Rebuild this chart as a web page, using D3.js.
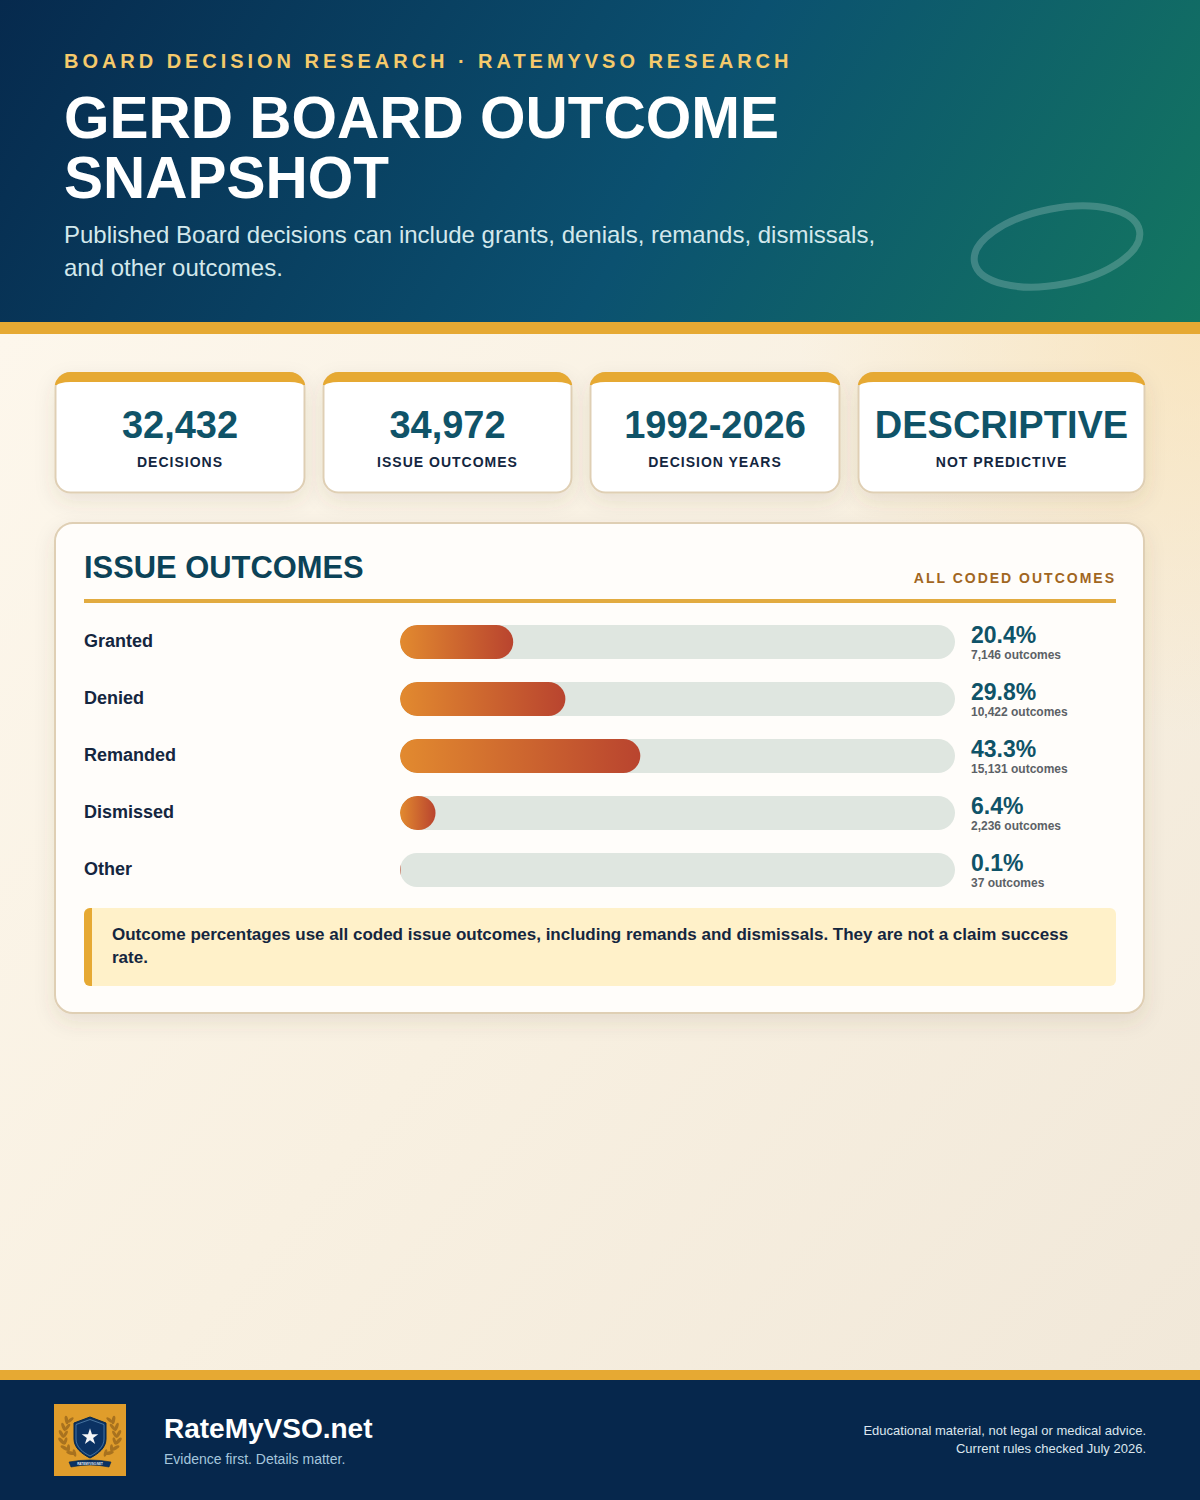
<!DOCTYPE html>
<html>
<head>
<meta charset="utf-8">
<title>GERD Board Outcome Snapshot</title>
<script src="https://cdnjs.cloudflare.com/ajax/libs/d3/7.8.5/d3.min.js"></script>
<style>
html, body { margin: 0; padding: 0; background: #f6eee0; }
svg { display: block; font-family: "Liberation Sans", Arial, sans-serif; }
</style>
</head>
<body>
<div id="chart"></div>
<script>
var categories = ["Granted", "Denied", "Remanded", "Dismissed", "Other"];
var percents = [20.4, 29.8, 43.3, 6.4, 0.1];
var counts = ["7,146 outcomes", "10,422 outcomes", "15,131 outcomes", "2,236 outcomes", "37 outcomes"];

var statValues = ["32,432", "34,972", "1992-2026", "DESCRIPTIVE"];
var statLabels = ["DECISIONS", "ISSUE OUTCOMES", "DECISION YEARS", "NOT PREDICTIVE"];
var statLefts = [55, 323, 590, 858];
var statRights = [305, 572, 840, 1145];

var width = 1200, height = 1500;
var gold = "#e6a933";

var svg = d3.select("#chart").append("svg")
    .attr("width", width)
    .attr("height", height)
    .attr("viewBox", "0 0 1200 1500");

var defs = svg.append("defs");

function gradient(id, x1, y1, x2, y2, stops) {
    var g = defs.append("linearGradient")
        .attr("id", id)
        .attr("gradientUnits", "userSpaceOnUse")
        .attr("x1", x1).attr("y1", y1).attr("x2", x2).attr("y2", y2);
    stops.forEach(function(s) {
        g.append("stop").attr("offset", s[0]).attr("stop-color", s[1]);
    });
}

gradient("pageBg", 0, 334, 1200, 1370, [[0, "#fdf7ec"], [0.5, "#f8f0e1"], [1, "#f1e8d9"]]);
gradient("headerBg", 60, -160, 1140, 480, [[0, "#06284c"], [0.55, "#0b5170"], [1, "#14795f"]]);

var glow = defs.append("radialGradient")
    .attr("id", "glow")
    .attr("gradientUnits", "userSpaceOnUse")
    .attr("cx", 1200).attr("cy", 334).attr("r", 400);
glow.append("stop").attr("offset", 0).attr("stop-color", "#f9e2b6").attr("stop-opacity", 0.75);
glow.append("stop").attr("offset", 1).attr("stop-color", "#f9e2b6").attr("stop-opacity", 0);

var shadow = defs.append("filter")
    .attr("id", "shadow")
    .attr("x", "-10%").attr("y", "-15%").attr("width", "120%").attr("height", "140%");
shadow.append("feDropShadow")
    .attr("dx", 0).attr("dy", 8).attr("stdDeviation", 10)
    .attr("flood-color", "#5a4526").attr("flood-opacity", 0.11);

// page background
svg.append("rect").attr("width", width).attr("height", height).attr("fill", "url(#pageBg)");
svg.append("rect").attr("y", 334).attr("width", width).attr("height", 1036).attr("fill", "url(#glow)");

// header
svg.append("rect").attr("width", width).attr("height", 322).attr("fill", "url(#headerBg)");
svg.append("rect").attr("y", 322).attr("width", width).attr("height", 12).attr("fill", gold);

svg.append("ellipse")
    .attr("transform", "translate(1057,246.5) rotate(-11)")
    .attr("rx", 84)
    .attr("ry", 38)
    .attr("fill", "none")
    .attr("stroke", "#ffffff")
    .attr("stroke-opacity", 0.2)
    .attr("stroke-width", 7);

svg.append("text")
    .attr("x", 64).attr("y", 68)
    .attr("font-size", 20).attr("font-weight", 700)
    .attr("letter-spacing", 3.96)
    .attr("fill", "#f5ca6b")
    .text("BOARD DECISION RESEARCH · RATEMYVSO RESEARCH");

var titleLines = ["GERD BOARD OUTCOME", "SNAPSHOT"];
svg.selectAll("text.title").data(titleLines).enter().append("text")
    .attr("class", "title")
    .attr("transform", function(d, i) { return "translate(64," + (137.5 + i * 60.5) + ") scale(0.975,1)"; })
    .attr("font-size", 60).attr("font-weight", 700)
    .attr("fill", "#ffffff")
    .text(function(d) { return d; });

var subLines = ["Published Board decisions can include grants, denials, remands, dismissals,", "and other outcomes."];
svg.selectAll("text.sub").data(subLines).enter().append("text")
    .attr("class", "sub")
    .attr("x", 64)
    .attr("y", function(d, i) { return 243 + i * 33; })
    .attr("font-size", 24)
    .attr("fill", "#d3e8ec")
    .text(function(d) { return d; });

// stat cards
statValues.forEach(function(v, i) {
    var l = statLefts[i], r = statRights[i], t = 372, b = 493.5;
    var g = svg.append("g");
    g.append("rect")
        .attr("x", l - 0.5).attr("y", t).attr("width", r - l + 1).attr("height", b - t)
        .attr("rx", 16)
        .attr("fill", "#dfcfb4")
        .attr("filter", "url(#shadow)");
    var clipId = "cardTop" + i;
    defs.append("clipPath").attr("id", clipId).append("rect")
        .attr("x", l - 0.5).attr("y", t).attr("width", r - l + 1).attr("height", 13);
    g.append("rect")
        .attr("x", l - 0.5).attr("y", t).attr("width", r - l + 1).attr("height", b - t)
        .attr("rx", 16)
        .attr("fill", gold)
        .attr("clip-path", "url(#" + clipId + ")");
    g.append("path")
        .attr("d", "M" + (l + 1.5) + "," + (t + 14)
            + " A14,4 0 0 1 " + (l + 15.5) + "," + (t + 10)
            + " H" + (r - 15.5)
            + " A14,4 0 0 1 " + (r - 1.5) + "," + (t + 14)
            + " V" + (b - 16)
            + " A14,14 0 0 1 " + (r - 15.5) + "," + (b - 2)
            + " H" + (l + 15.5)
            + " A14,14 0 0 1 " + (l + 1.5) + "," + (b - 16) + " Z")
        .attr("fill", "#ffffff");
    g.append("text")
        .attr("x", (l + r) / 2).attr("y", 438)
        .attr("text-anchor", "middle")
        .attr("font-size", 38).attr("font-weight", 700)
        .attr("fill", "#0f5368")
        .text(v);
    g.append("text")
        .attr("x", (l + r) / 2).attr("y", 467)
        .attr("text-anchor", "middle")
        .attr("font-size", 14).attr("font-weight", 700)
        .attr("letter-spacing", 1)
        .attr("fill", "#132640")
        .text(statLabels[i]);
});

// main panel
svg.append("rect")
    .attr("x", 55).attr("y", 523).attr("width", 1089).attr("height", 490)
    .attr("rx", 18)
    .attr("fill", "#fffdfa")
    .attr("stroke", "#dfcfb4")
    .attr("stroke-width", 2)
    .attr("filter", "url(#shadow)");

svg.append("text")
    .attr("transform", "translate(84,578) scale(0.965,1)")
    .attr("font-size", 32).attr("font-weight", 700)
    .attr("fill", "#0c4358")
    .text("ISSUE OUTCOMES");

svg.append("text")
    .attr("x", 1116).attr("y", 583)
    .attr("text-anchor", "end")
    .attr("font-size", 14).attr("font-weight", 700)
    .attr("letter-spacing", 2)
    .attr("fill", "#a1661f")
    .text("ALL CODED OUTCOMES");

svg.append("rect")
    .attr("x", 84).attr("y", 599).attr("width", 1032).attr("height", 4)
    .attr("fill", "#e2ab40");

// bars
var x = d3.scaleLinear().domain([0, 100]).range([400, 955]);
var y = d3.scalePoint().domain(categories).range([625, 853]);
var barH = 34;

var rows = svg.selectAll("g.row")
    .data(categories)
    .enter().append("g")
    .attr("class", "row")
    .attr("transform", function(d) { return "translate(0," + y(d) + ")"; });

rows.append("text")
    .attr("x", 84).attr("y", 22)
    .attr("font-size", 18).attr("font-weight", 700)
    .attr("fill", "#14263f")
    .text(function(d) { return d; });

rows.append("rect")
    .attr("x", x(0)).attr("y", 0)
    .attr("width", x(100) - x(0)).attr("height", barH)
    .attr("rx", 17)
    .attr("fill", "#dfe6e0");

categories.forEach(function(c, i) {
    gradient("barFill" + i, x(0), 0, x(percents[i]), 0, [[0, "#e28a2f"], [1, "#b9442f"]]);
});

// thin bars get clipped by the track's rounded end, so clip every fill to it
rows.each(function(d, i) {
    var clipId = "trackClip" + i;
    defs.append("clipPath").attr("id", clipId).append("rect")
        .attr("x", x(0)).attr("y", 0)
        .attr("width", x(100) - x(0)).attr("height", barH)
        .attr("rx", 17);
    var w = x(percents[i]) - x(0);
    d3.select(this).append("g")
        .attr("clip-path", "url(#" + clipId + ")")
        .append("rect")
        .attr("x", x(0)).attr("y", 0)
        .attr("width", w).attr("height", barH)
        .attr("rx", Math.min(17, w / 2))
        .attr("ry", 17)
        .attr("fill", "url(#barFill" + i + ")");
});

rows.append("text")
    .attr("x", 971).attr("y", 17.5)
    .attr("font-size", 23).attr("font-weight", 700)
    .attr("fill", "#0f5368")
    .text(function(d, i) { return percents[i].toFixed(1) + "%"; });

rows.append("text")
    .attr("x", 971).attr("y", 34)
    .attr("font-size", 12).attr("font-weight", 700)
    .attr("fill", "#5c6166")
    .text(function(d, i) { return counts[i]; });

// note
defs.append("clipPath").attr("id", "noteClip").append("rect")
    .attr("x", 84).attr("y", 908).attr("width", 1032).attr("height", 78).attr("rx", 6);
var note = svg.append("g").attr("clip-path", "url(#noteClip)");
note.append("rect").attr("x", 84).attr("y", 908).attr("width", 1032).attr("height", 78).attr("fill", "#fff1c9");
note.append("rect").attr("x", 84).attr("y", 908).attr("width", 8).attr("height", 78).attr("fill", gold);

var noteLines = ["Outcome percentages use all coded issue outcomes, including remands and dismissals. They are not a claim success", "rate."];
svg.selectAll("text.note").data(noteLines).enter().append("text")
    .attr("class", "note")
    .attr("x", 112)
    .attr("y", function(d, i) { return 940 + i * 23; })
    .attr("font-size", 17).attr("font-weight", 700)
    .attr("fill", "#14263f")
    .text(function(d) { return d; });

// footer
svg.append("rect").attr("y", 1370).attr("width", width).attr("height", 10).attr("fill", gold);
svg.append("rect").attr("y", 1380).attr("width", width).attr("height", 120).attr("fill", "#06274c");

// logo
var logo = svg.append("g").attr("transform", "translate(54,1404)");
logo.append("rect").attr("width", 72).attr("height", 72).attr("fill", "#e09d2b");

var laurelNodes = [[14, 19, 20], [11, 26, 10], [9, 33, 0], [9, 40, -12], [12, 47, -30], [18, 52, -45]];
[1, -1].forEach(function(side) {
    var wing = logo.append("g")
        .attr("transform", side === 1 ? null : "translate(72,0) scale(-1,1)");
    laurelNodes.forEach(function(p) {
        wing.append("ellipse")
            .attr("transform", "translate(" + (p[0] - 1.5) + "," + (p[1] - 3) + ") rotate(" + (p[2] - 30) + ")")
            .attr("rx", 1.7).attr("ry", 4.4)
            .attr("fill", "#a8721f");
        wing.append("ellipse")
            .attr("transform", "translate(" + (p[0] + 2.5) + "," + (p[1] - 3) + ") rotate(" + (p[2] + 30) + ")")
            .attr("rx", 1.5).attr("ry", 3.8)
            .attr("fill", "#a8721f");
    });
});

logo.append("path")
    .attr("d", "M36,13 L52,19 V35 C52,44 44,50 36,54 C28,50 20,44 20,35 V19 Z")
    .attr("fill", "#0b3263")
    .attr("stroke", "#06274c")
    .attr("stroke-width", 1);
logo.append("path")
    .attr("d", "M36,15.5 L50,20.5 V35 C50,43 43,48.5 36,52 C29,48.5 22,43 22,35 V20.5 Z")
    .attr("fill", "none")
    .attr("stroke", "#6f9fc6")
    .attr("stroke-width", 0.6);
logo.append("path")
    .attr("d", d3.symbol().type(d3.symbolStar).size(85)())
    .attr("transform", "translate(36,33)")
    .attr("fill", "#f4f6f8");
logo.append("path")
    .attr("d", "M15,58 Q36,54 57,58 L55,63 Q36,59 17,63 Z")
    .attr("fill", "#0b3263")
    .attr("stroke", "#06274c")
    .attr("stroke-width", 0.6);
logo.append("text")
    .attr("x", 36).attr("y", 60.5)
    .attr("text-anchor", "middle")
    .attr("font-size", 3).attr("font-weight", 700)
    .attr("fill", "#e8eef3")
    .text("RATEMYVSO.NET");

svg.append("text")
    .attr("x", 164).attr("y", 1438)
    .attr("font-size", 28).attr("font-weight", 700)
    .attr("fill", "#ffffff")
    .text("RateMyVSO.net");

svg.append("text")
    .attr("x", 164).attr("y", 1464)
    .attr("font-size", 14)
    .attr("fill", "#a5c6dc")
    .text("Evidence first. Details matter.");

var footLines = ["Educational material, not legal or medical advice.", "Current rules checked July 2026."];
svg.selectAll("text.foot").data(footLines).enter().append("text")
    .attr("class", "foot")
    .attr("x", 1146)
    .attr("y", function(d, i) { return 1435 + i * 18; })
    .attr("text-anchor", "end")
    .attr("font-size", 13)
    .attr("fill", "#dbe6ee")
    .text(function(d) { return d; });
</script>
</body>
</html>
